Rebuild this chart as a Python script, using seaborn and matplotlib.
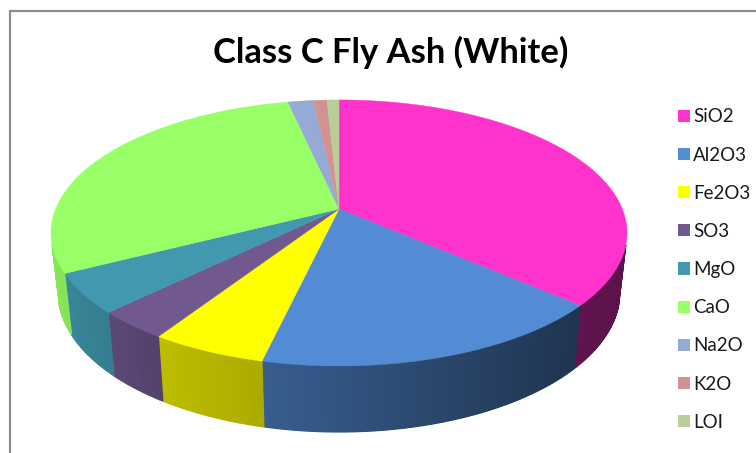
import numpy as np
import matplotlib
matplotlib.use('Agg')
import matplotlib.pyplot as plt
from matplotlib.colors import to_rgb
from matplotlib.patches import Patch
import seaborn as sns

# values (percent of the pie)
labels = ['SiO2', 'Al2O3', 'Fe2O3', 'SO3', 'MgO', 'CaO', 'Na2O', 'K2O', 'LOI']
values = [36.5, 17.1, 5.5, 3.5, 4.8, 29.2, 1.7, 0.9, 0.8]
colors = ['#FF33CC', '#538CD5', '#FFFF00', '#71588F', '#4198AF',
          '#99FF66', '#95ABD5', '#D19392', '#B9CD96']
title = 'Class C Fly Ash (White)'

sns.set_theme(style='white')
plt.rcParams['font.family'] = ['Lato', 'DejaVu Sans']

# perspective of the tilted disc, in image pixels
cx, cy = 339, 209
rx, ry = 283.3, 128.7
persp = 0.18


def top_rim(theta):
    # theta is clockwise from 12 o'clock
    u, v = np.sin(theta), -np.cos(theta)
    w = 1 - persp * v
    return cx + rx * u / w, cy + ry * v / w


def bottom_rim(x, y):
    return cx + 0.975 * (x - cx), 432 + 1.05 * (y - 366)


def shade(x):
    return np.interp(x, [50, 108, 158, 262, 573, 627], [.9, .82, .74, .67, .38, .36])


fig = plt.figure(figsize=(7.56, 4.53), dpi=100)
ax = fig.add_axes([0, 0, 1, 1])
ax.set_xlim(0, 756)
ax.set_ylim(453, 0)
ax.axis('off')

edges = np.cumsum([0] + values) / sum(values) * 2 * np.pi

# side wall first, only the front of the disc shows
for i, c in enumerate(colors):
    t = np.linspace(edges[i], edges[i + 1], max(3, int(values[i] * 6)))
    x, y = top_rim(t)
    xb, yb = bottom_rim(x, y)
    for j in range(len(t) - 1):
        if y[j] < 246 and y[j + 1] < 246:
            continue
        f = shade((x[j] + x[j + 1]) / 2)
        ax.fill([x[j], x[j + 1], xb[j + 1], xb[j]], [y[j], y[j + 1], yb[j + 1], yb[j]],
                color=tuple(f * np.array(to_rgb(c))), lw=0.9, zorder=2)

# top face
for i, c in enumerate(colors):
    t = np.linspace(edges[i], edges[i + 1], max(3, int(values[i] * 12)))
    x, y = top_rim(t)
    ax.fill(np.r_[cx, x], np.r_[cy, y], color=c, lw=0.3, zorder=3)

# chart frame
ax.plot([10, 10, 756], [453, 11, 11], color='#8c8c8c', lw=1.6, zorder=1, solid_joinstyle='miter')

ax.text(391, 52, title, fontsize=24.8, fontweight='bold', color='black', ha='center', va='center')

handles = [Patch(facecolor=c, edgecolor='none', label=n) for n, c in zip(labels, colors)]
ax.legend(handles=handles, loc='upper left', bbox_to_anchor=(678 / 756, 1 - 108.5 / 453),
          frameon=False, fontsize=13.5, labelspacing=1.128, handlelength=0.62, handleheight=0.62,
          handletextpad=0.2, borderpad=0, borderaxespad=0, labelcolor='#1a1a1a')

plt.savefig('out.png', dpi=100)
plt.close()
